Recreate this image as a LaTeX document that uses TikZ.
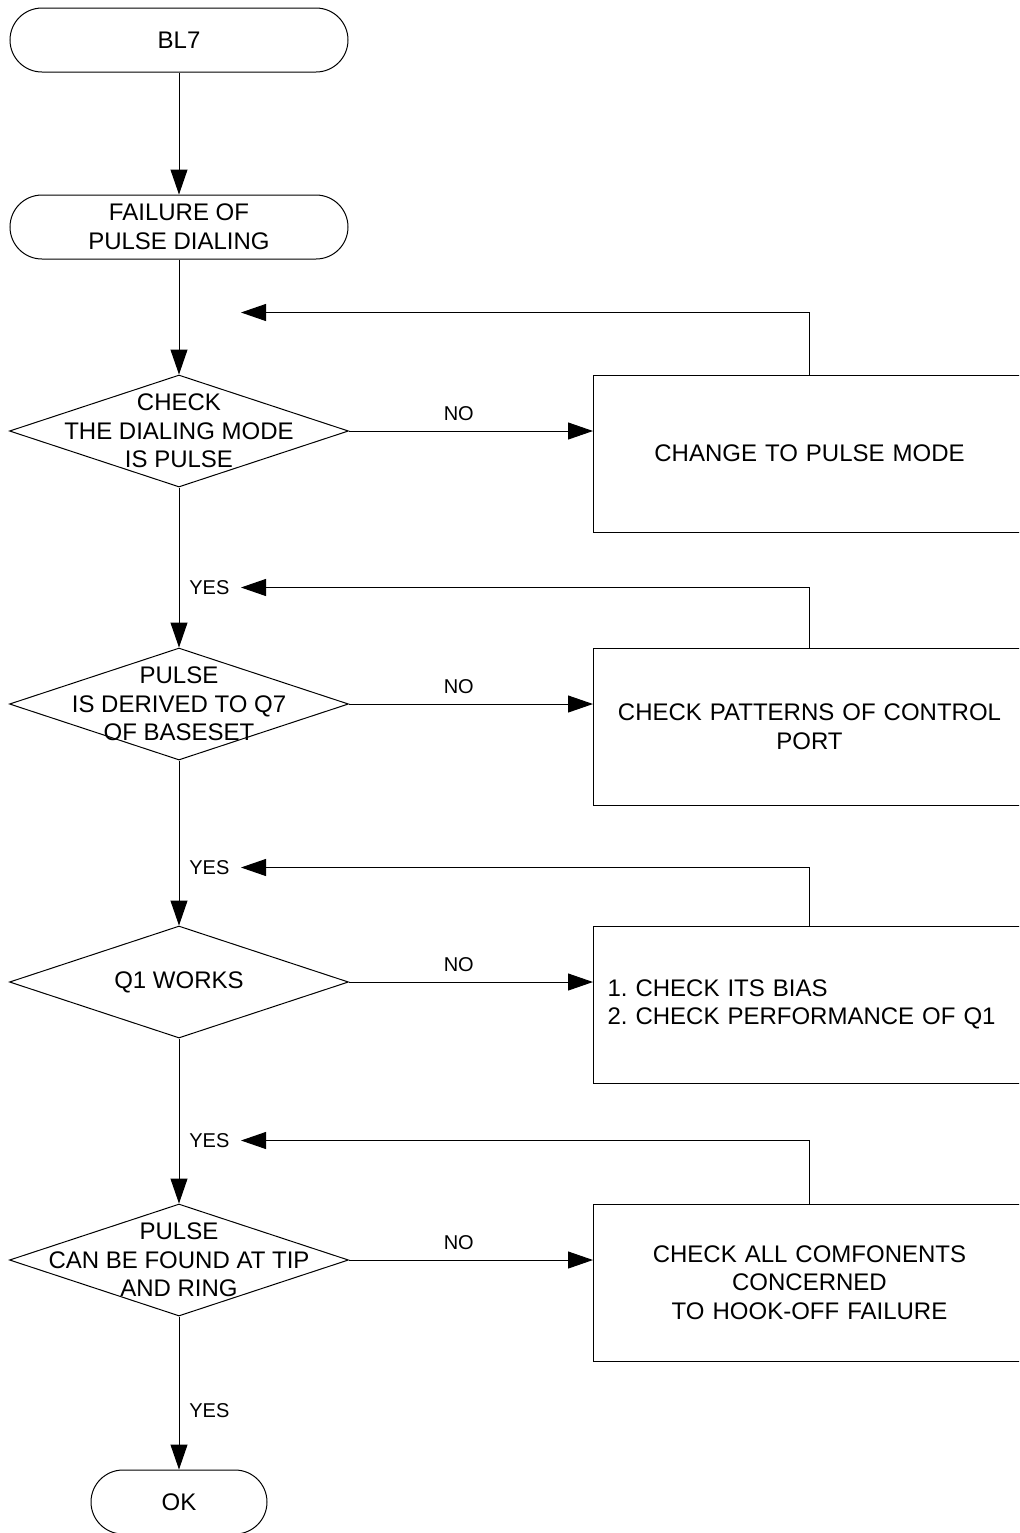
\documentclass[tikz,border=0pt]{standalone}
\usepackage{fontspec}
\setmainfont{Liberation Sans}
\usetikzlibrary{arrows.meta,positioning,calc,shapes.geometric}
\frenchspacing

\begin{document}
\begin{tikzpicture}[
  every node/.style={font=\fontsize{12pt}{14.3pt}\selectfont,align=center},
  term/.style={draw,line width=0.5pt,rounded corners=16pt,minimum width=169pt,minimum height=32pt,inner sep=0pt},
  dec/.style={draw,line width=0.5pt,diamond,minimum width=169.5pt,minimum height=56pt,inner sep=0pt},
  proc/.style={draw,line width=0.5pt,rectangle,minimum height=78.5pt,text width=202pt,inner xsep=7pt},
  lbl/.style={font=\fontsize{10pt}{12pt}\selectfont,inner sep=5pt},
  arr/.style={-{Triangle[length=12.5pt,width=8.5pt]},line width=0.5pt}
]
\path[use as bounding box,clip] (0,0) rectangle (509.5pt,-766.5pt);
\node[term] (start) at (89.5pt,-20pt) {BL7};
\node[term,below=61pt of start] (fail) {FAILURE OF\\PULSE DIALING};
\node[dec,below=57.5pt of fail] (mode) {};
\node (tmode) at (mode) {CHECK\\THE DIALING MODE\\IS PULSE};
\node[dec,below=80pt of mode] (q7) {};
\node (tq7) at (q7) {PULSE\\IS DERIVED TO Q7\\OF BASESET};
\node[dec,below=82.5pt of q7] (q1) {};
\node (tq1) at (q1) {Q1 WORKS};
\node[dec,below=82.5pt of q1] (tip) {};
\node (ttip) at (tip) {PULSE\\CAN BE FOUND AT TIP\\AND RING};
\node[term,minimum width=88pt,below=76.5pt of tip] (ok) {OK};
\node[proc,right=122pt of mode,yshift=-11.25pt] (chmode) {CHANGE TO PULSE MODE};
\node[proc,right=122pt of q7,yshift=-11.25pt] (chport) {CHECK PATTERNS OF CONTROL\\PORT};
\node[proc,right=122pt of q1,yshift=-11.25pt,align=left] (chbias) {1. CHECK ITS BIAS\\2. CHECK PERFORMANCE OF Q1};
\node[proc,right=122pt of tip,yshift=-11.25pt] (chparts) {CHECK ALL COMFONENTS\\CONCERNED\\TO HOOK-OFF FAILURE};
% return points on the main line
\coordinate (rmode) at ($(mode.north)+(31pt,31pt)$);
\coordinate (rq7) at ($(q7.north)+(31pt,30pt)$);
\coordinate (rq1) at ($(q1.north)+(31pt,29pt)$);
\coordinate (rtip) at ($(tip.north)+(31pt,31.5pt)$);
\node[lbl,anchor=west] (ymode) at (rq7 -| q7.north) {YES};
\node[lbl,anchor=west] (yq7) at (rq1 -| q1.north) {YES};
\node[lbl,anchor=west] (yq1) at (rtip -| tip.north) {YES};
\node[lbl,anchor=west] (ytip) at ($(ok.north)+(0,29.5pt)$) {YES};
\draw[arr] (start)--(fail); \draw[arr] (fail)--(mode); \draw[arr] (mode)--(q7); \draw[arr] (q7)--(q1); \draw[arr] (q1)--(tip); \draw[arr] (tip)--(ok);
\draw[arr] (mode.east) -- node[lbl,above,pos=0.45] (nmode) {NO} (mode.east -| chmode.west);
\draw[arr] (q7.east) -- node[lbl,above,pos=0.45] (nq7) {NO} (q7.east -| chport.west);
\draw[arr] (q1.east) -- node[lbl,above,pos=0.45] (nq1) {NO} (q1.east -| chbias.west);
\draw[arr] (tip.east) -- node[lbl,above,pos=0.45] (ntip) {NO} (tip.east -| chparts.west);
\draw[arr] (chmode.north) |- (rmode); \draw[arr] (chport.north) |- (rq7); \draw[arr] (chbias.north) |- (rq1); \draw[arr] (chparts.north) |- (rtip);
\end{tikzpicture}
\end{document}
